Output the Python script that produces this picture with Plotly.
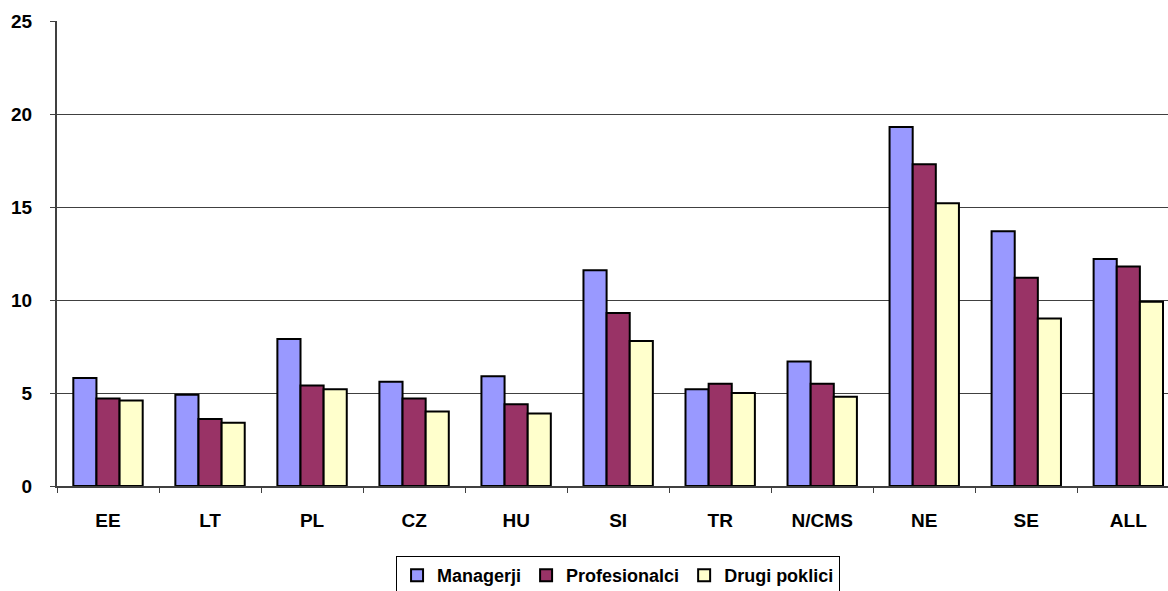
import plotly.graph_objects as go

# Categories (country groups) and the three occupational series
categories = ["EE", "LT", "PL", "CZ", "HU", "SI", "TR", "N/CMS", "NE", "SE", "ALL"]
managerji = [5.8, 4.9, 7.9, 5.6, 5.9, 11.6, 5.2, 6.7, 19.3, 13.7, 12.2]
profesionalci = [4.7, 3.6, 5.4, 4.7, 4.4, 9.3, 5.5, 5.5, 17.3, 11.2, 11.8]
drugi_poklici = [4.6, 3.4, 5.2, 4.0, 3.9, 7.8, 5.0, 4.8, 15.2, 9.0, 9.9]
y_ticks = [0, 5, 10, 15, 20, 25]

series = [
    ("Managerji", managerji, "#9999FF"),
    ("Profesionalci", profesionalci, "#993366"),
    ("Drugi poklici", drugi_poklici, "#FFFFCC"),
]

font_family = "Liberation Sans, Arial, sans-serif"

fig = go.Figure()
for name, vals, color in series:
    fig.add_trace(go.Bar(
        x=list(range(len(categories))),
        y=vals,
        name=name,
        marker=dict(color=color, line=dict(color="black", width=2)),
    ))

fig.update_layout(
    width=1168,
    height=591,
    margin=dict(l=57, r=0, t=21, b=105),
    paper_bgcolor="white",
    plot_bgcolor="white",
    barmode="group",
    bargap=0.32,
    bargroupgap=0,
    font=dict(family=font_family, size=18, color="black"),
    showlegend=True,
    legend=dict(
        orientation="h",
        xref="paper", x=0.505, xanchor="center",
        yref="container", y=0.059, yanchor="top",
        bordercolor="black",
        borderwidth=1,
        bgcolor="white",
        font=dict(family=font_family, size=18, color="black", weight="bold"),
        itemwidth=30,
        tracegroupgap=0,
    ),
)

fig.update_xaxes(
    range=[-0.5, 10.389],
    tickmode="array",
    tickvals=list(range(len(categories))),
    ticktext=categories,
    tickfont=dict(family=font_family, size=19, color="black", weight="bold"),
    ticks="",
    showgrid=False,
    showline=True,
    linecolor="#404040",
    linewidth=2,
    zeroline=False,
    ticklabelstandoff=16,
)

# Tick marks between categories on the category axis
fig.update_xaxes(
    minor=dict(
        tickmode="array",
        tickvals=[i + 0.5 for i in range(-1, len(categories))],
        ticks="outside",
        ticklen=5,
        tickcolor="#404040",
        tickwidth=1,
        showgrid=False,
    )
)

fig.update_yaxes(
    range=[0, 25],
    tickmode="array",
    tickvals=y_ticks,
    tickfont=dict(family=font_family, size=19, color="black", weight="bold"),
    ticks="outside",
    ticklen=5,
    tickcolor="#404040",
    showgrid=True,
    gridcolor="#404040",
    gridwidth=1,
    showline=True,
    linecolor="#404040",
    linewidth=2,
    zeroline=False,
    ticklabelstandoff=14,
)

fig.write_html("out.html")
